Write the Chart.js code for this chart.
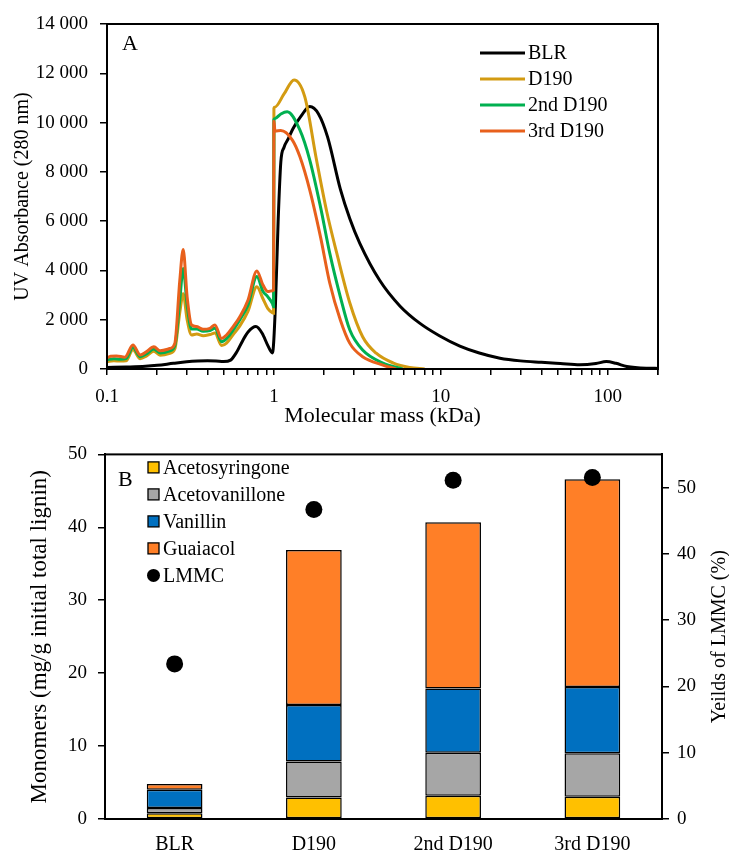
<!DOCTYPE html>
<html>
<head>
<meta charset="utf-8">
<title>Molecular mass distribution and monomer yields</title>
<script src="https://cdn.jsdelivr.net/npm/chart.js@4/dist/chart.umd.min.js"></script>
<style>
  html, body { margin: 0; padding: 0; background: #fff; }
  canvas { display: block; }
</style>
</head>
<body>
<canvas id="gpc" width="729" height="432"></canvas>
<canvas id="monomers" width="729" height="420"></canvas>
<script>
// ---- Panel A: GPC traces (molecular mass in kDa vs UV absorbance at 280 nm) ----
const blrMass  = [0.1, 0.13, 0.17, 0.2, 0.25, 0.3, 0.35, 0.4, 0.45, 0.5, 0.55, 0.6, 0.65, 0.7, 0.78, 0.85, 0.92, 0.98,
                  1.02, 1.06, 1.1, 1.15, 1.22, 1.3, 1.45, 1.64, 1.85, 2.1, 2.5, 2.85, 3.27, 4.3, 5.7, 7.5, 9.8, 13, 17,
                  22.6, 30, 40, 52, 68, 85, 98, 112, 130, 170, 200];
const blrAbs   = [60, 80, 110, 150, 230, 290, 320, 330, 320, 300, 360, 700, 1150, 1500, 1720, 1450, 950, 650,
                  2500, 6000, 8400, 9000, 9350, 9750, 10250, 10650, 10350, 9400, 7300, 6100, 5100, 3600, 2550, 1850, 1350, 930, 650,
                  440, 330, 270, 220, 170, 220, 300, 230, 100, 30, 25];

const d190Mass = [0.1, 0.11, 0.12, 0.13, 0.143, 0.158, 0.172, 0.191, 0.208, 0.238, 0.255, 0.273, 0.286, 0.302, 0.321,
                  0.345, 0.377, 0.414, 0.443, 0.486, 0.52, 0.57, 0.625, 0.7, 0.79, 0.86, 0.92, 0.98, 0.995,
                  1.0, 1.01, 1.15, 1.32, 1.53, 1.8, 2.07, 2.38, 2.85, 3.4, 4.1, 5.2, 6.5, 8];
const d190Abs  = [300, 330, 320, 330, 780, 420, 520, 720, 560, 640, 820, 2300, 3050, 2000, 1380,
                  1420, 1350, 1400, 1460, 950, 1050, 1400, 1750, 2350, 3340, 2850, 2450, 2280, 2260,
                  10580, 10620, 11160, 11730, 11050, 8480, 6400, 4700, 2680, 1310, 640, 240, 60, 0];

const d190bMass = [0.1, 0.11, 0.12, 0.13, 0.143, 0.158, 0.172, 0.191, 0.208, 0.238, 0.255, 0.273, 0.286, 0.302, 0.321,
                   0.345, 0.377, 0.414, 0.443, 0.486, 0.52, 0.57, 0.625, 0.7, 0.79, 0.86, 0.92, 0.98, 0.995,
                   1.0, 1.01, 1.1, 1.2, 1.43, 1.64, 1.9, 2.16, 2.5, 2.85, 3.4, 4.5, 5.9];
const d190bAbs  = [380, 420, 400, 420, 880, 500, 610, 810, 650, 740, 950, 2800, 4080, 2600, 1620,
                   1620, 1530, 1560, 1650, 1110, 1230, 1580, 2000, 2600, 3750, 3150, 2930, 2650, 2530,
                   10130, 10160, 10350, 10440, 9700, 8480, 6590, 4700, 2930, 1580, 770, 240, 0];

const d190cMass = [0.1, 0.105, 0.114, 0.128, 0.143, 0.158, 0.172, 0.191, 0.208, 0.238, 0.255, 0.273, 0.286, 0.302, 0.321,
                   0.345, 0.377, 0.414, 0.443, 0.486, 0.52, 0.57, 0.625, 0.7, 0.79, 0.86, 0.92, 0.98, 0.995,
                   1.0, 1.015, 1.1, 1.29, 1.43, 1.64, 1.9, 2.16, 2.5, 2.85, 3.4, 4.5, 5.4];
const d190cAbs  = [450, 520, 530, 480, 970, 570, 700, 900, 740, 830, 1040, 3600, 4850, 2930, 1790,
                   1720, 1610, 1650, 1790, 1240, 1380, 1720, 2120, 2800, 3980, 3410, 3140, 3180, 3200,
                   10050, 9650, 9680, 9290, 8620, 7260, 5370, 3490, 1990, 1040, 500, 160, 0];

const massDecades = [0.1, 1, 10, 100];
const massMultipliers = [1, 2, 3, 4, 5, 6, 7, 8, 9];
const massAxisEnd = 200;

// ---- Panel B: monomer yields (mg/g initial total lignin) and LMMC yield (%) ----
const samples        = ['BLR', 'D190', '2nd D190', '3rd D190'];
const acetosyringone = [0.8, 2.95, 3.2, 3.05];
const acetovanillone = [0.7, 4.95, 5.9, 5.95];
const vanillin       = [2.5, 7.75, 8.8, 9.1];
const guaiacol       = [0.8, 21.25, 22.8, 28.5];
const lmmcYield      = [23.4, 46.7, 51.1, 51.5];

const SERIF = '"Liberation Serif", "Times New Roman", serif';
Chart.defaults.font.family = SERIF;
Chart.defaults.font.size = 19;
Chart.defaults.color = '#000';

const axisGrid = (len) => ({ drawOnChartArea: false, color: '#000', lineWidth: 1.5, tickLength: len });
const axisBorder = { color: '#000', width: 2 };

function thousands(v) {
  if (v < 1000) return String(v);
  return Math.floor(v / 1000) + ' ' + String(v % 1000).padStart(3, '0');
}

function points(xs, ys) {
  return xs.map((x, i) => ({ x, y: ys[i] }));
}

// closed box around the plotting area
const frame = {
  id: 'frame',
  afterDraw(chart) {
    const { ctx, chartArea: a } = chart;
    ctx.save();
    ctx.strokeStyle = '#000';
    ctx.lineWidth = 2;
    ctx.strokeRect(a.left, a.top, a.right - a.left, a.bottom - a.top);
    ctx.restore();
  }
};

// line-sample legend plus the panel letter
const lineLegend = {
  id: 'lineLegend',
  afterDraw(chart) {
    const { ctx, chartArea: a } = chart;
    ctx.save();
    ctx.textBaseline = 'middle';
    ctx.font = '20px ' + SERIF;
    chart.data.datasets.forEach((ds, i) => {
      const x = a.right - 178;
      const y = a.top + 29 + i * 26;
      ctx.strokeStyle = ds.borderColor;
      ctx.lineWidth = 3;
      ctx.beginPath();
      ctx.moveTo(x, y);
      ctx.lineTo(x + 45, y);
      ctx.stroke();
      ctx.fillStyle = '#000';
      ctx.fillText(ds.label, x + 48, y + 1);
    });
    ctx.font = '22px ' + SERIF;
    ctx.fillText('A', a.left + 15, a.top + 20);
    ctx.restore();
  }
};

new Chart(document.getElementById('gpc'), {
  type: 'line',
  data: {
    datasets: [
      { label: 'BLR', data: points(blrMass, blrAbs), borderColor: '#000000', order: 3 },
      { label: 'D190', data: points(d190Mass, d190Abs), borderColor: '#D39B12', order: 2 },
      { label: '2nd D190', data: points(d190bMass, d190bAbs), borderColor: '#00B050', order: 1 },
      { label: '3rd D190', data: points(d190cMass, d190cAbs), borderColor: '#E8601C', order: 0 }
    ]
  },
  options: {
    responsive: false,
    animation: false,
    layout: { padding: { top: 24, right: 71, left: 0, bottom: 0 } },
    plugins: { legend: { display: false }, tooltip: { enabled: false } },
    elements: {
      point: { radius: 0 },
      line: { borderWidth: 3, cubicInterpolationMode: 'monotone', fill: false }
    },
    scales: {
      x: {
        type: 'logarithmic',
        min: massDecades[0],
        max: massAxisEnd,
        afterBuildTicks(s) {
          const vals = [];
          massDecades.forEach(d => massMultipliers.forEach(m => {
            const v = +(d * m).toPrecision(6);
            if (v <= massAxisEnd) vals.push(v);
          }));
          vals.push(massAxisEnd);
          s.ticks = vals.map(value => ({ value }));
        },
        afterFit(s) { s.height = 63; },
        ticks: {
          autoSkip: false,
          maxRotation: 0,
          padding: 11,
          callback: v => (massDecades.includes(v) ? String(v) : '')
        },
        grid: axisGrid(6),
        border: axisBorder,
        title: { display: true, text: 'Molecular mass (kDa)', font: { size: 22 }, padding: { top: 0, bottom: 3 } }
      },
      y: {
        min: 0,
        max: 14000,
        afterFit(s) { s.width = 107; },
        ticks: { stepSize: 2000, padding: 12, callback: v => thousands(v) },
        grid: axisGrid(7),
        border: axisBorder,
        title: { display: true, text: 'UV Absorbance (280 nm)', font: { size: 20 }, padding: { top: 11, bottom: 0 } }
      }
    }
  },
  plugins: [frame, lineLegend]
});

// box/dot legend, panel letter and the right-hand axis title
const barLegend = {
  id: 'barLegend',
  afterDraw(chart) {
    const { ctx, chartArea: a } = chart;
    ctx.save();
    ctx.textBaseline = 'middle';
    ctx.font = '20px ' + SERIF;
    chart.data.datasets.forEach((ds, i) => {
      const y = a.top + 13 + i * 27;
      const x = a.left + 43;
      if (ds.type === 'line') {
        ctx.fillStyle = '#000';
        ctx.beginPath();
        ctx.arc(x + 5.5, y, 6.5, 0, Math.PI * 2);
        ctx.fill();
      } else {
        ctx.fillStyle = ds.backgroundColor;
        ctx.fillRect(x, y - 5.5, 11, 11);
        ctx.strokeStyle = '#000';
        ctx.lineWidth = 1.3;
        ctx.strokeRect(x, y - 5.5, 11, 11);
      }
      ctx.fillStyle = '#000';
      ctx.fillText(ds.label, x + 15, y + 1);
    });
    ctx.font = '22px ' + SERIF;
    ctx.fillText('B', a.left + 13, a.top + 26);

    ctx.font = '20px ' + SERIF;
    ctx.textAlign = 'center';
    ctx.translate(chart.width - 9, (a.top + a.bottom) / 2);
    ctx.rotate(-Math.PI / 2);
    ctx.fillText('Yeilds of LMMC (%)', 0, 0);
    ctx.restore();
  }
};

const barStyle = { borderColor: '#000', borderWidth: 1.5, borderSkipped: false, stack: 'monomers' };

new Chart(document.getElementById('monomers'), {
  type: 'bar',
  data: {
    labels: samples,
    datasets: [
      { label: 'Acetosyringone', data: acetosyringone, backgroundColor: '#FFC000', ...barStyle },
      { label: 'Acetovanillone', data: acetovanillone, backgroundColor: '#A6A6A6', ...barStyle },
      { label: 'Vanillin', data: vanillin, backgroundColor: '#0070C0', ...barStyle },
      { label: 'Guaiacol', data: guaiacol, backgroundColor: '#FF7F27', ...barStyle },
      {
        type: 'line', label: 'LMMC', data: lmmcYield, yAxisID: 'y2', showLine: false,
        pointRadius: 8.5, pointBackgroundColor: '#000', pointBorderWidth: 0, order: -1
      }
    ]
  },
  options: {
    responsive: false,
    animation: false,
    layout: { padding: { top: 20, right: 0, left: 0, bottom: 0 } },
    plugins: { legend: { display: false }, tooltip: { enabled: false } },
    datasets: { bar: { barPercentage: 0.4, categoryPercentage: 1 } },
    scales: {
      x: {
        stacked: true,
        afterFit(s) { s.height = 33; },
        grid: { display: false, drawTicks: false },
        border: axisBorder,
        ticks: { padding: 14, font: { size: 20 } }
      },
      y: {
        stacked: true,
        min: 0,
        max: 50,
        afterFit(s) { s.width = 105; },
        ticks: { stepSize: 10, padding: 11 },
        grid: axisGrid(7),
        border: axisBorder,
        title: { display: true, text: 'Monomers (mg/g initial total lignin)', font: { size: 23 }, padding: { top: 26, bottom: 0 } }
      },
      y2: {
        position: 'right',
        min: 0,
        max: 55,
        afterFit(s) { s.width = 67; },
        ticks: { stepSize: 10, padding: 8, includeBounds: false },
        grid: axisGrid(7),
        border: axisBorder
      }
    }
  },
  plugins: [frame, barLegend]
});
</script>
</body>
</html>
